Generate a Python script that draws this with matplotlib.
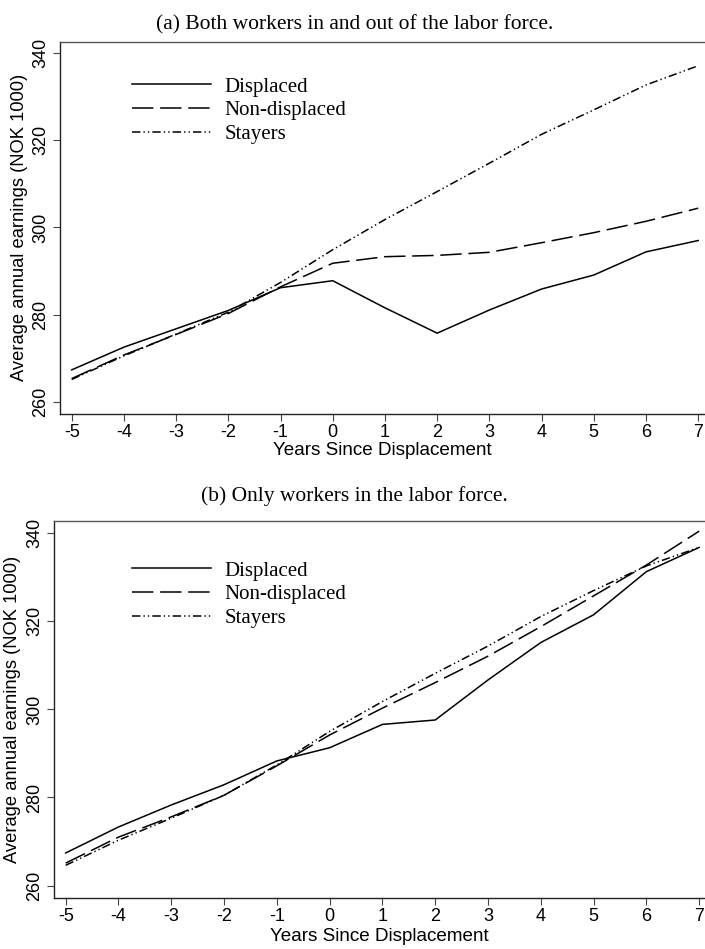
import numpy as np
import matplotlib
matplotlib.use("Agg")
import matplotlib.pyplot as plt

plt.rcParams["axes.unicode_minus"] = False

years = [-5, -4, -3, -2, -1, 0, 1, 2, 3, 4, 5, 6, 7]

# (a) Both workers in and out of the labor force
displaced_a = [267.4, 272.6, 276.8, 281.0, 286.2, 287.8, 281.6, 275.8, 281.1, 285.9, 289.1, 294.4, 297.0]
nondisp_a = [265.4, 270.8, 275.5, 280.3, 286.4, 291.8, 293.3, 293.6, 294.3, 296.5, 298.8, 301.4, 304.4]
stayers_a = [265.2, 270.6, 275.6, 280.6, 287.4, 294.9, 301.8, 308.2, 314.7, 321.3, 326.9, 332.6, 337.0]

# (b) Only workers in the labor force
displaced_b = [267.4, 273.3, 278.3, 282.9, 288.3, 291.3, 296.6, 297.6, 306.7, 315.2, 321.5, 331.3, 336.8]
nondisp_b = [265.1, 271.0, 275.6, 280.5, 287.2, 294.2, 300.3, 306.1, 312.1, 318.8, 325.8, 332.8, 340.5]
stayers_b = [264.6, 270.3, 275.3, 280.5, 287.4, 295.0, 301.8, 308.2, 314.4, 321.1, 327.0, 332.6, 336.8]

labels = ["Displaced", "Non-displaced", "Stayers"]
titles = ["(a) Both workers in and out of the labor force.",
          "(b) Only workers in the labor force."]

W, H = 705, 949
fig = plt.figure(figsize=(W / 100, H / 100), dpi=100)

sans = ["Liberation Sans", "DejaVu Sans"]
serif = ["Liberation Serif", "DejaVu Serif"]

lw = 1.1
styles = [dict(linestyle="-"),
          dict(dashes=(14, 4.4)),
          dict(dashes=(5.5, 2, 0.9, 2, 0.9, 2))]


def px_rect(left, top, right, bottom):
    return [left / W, 1 - bottom / H, (right - left) / W, (bottom - top) / H]


panels = [
    dict(rect=px_rect(60, 41.7, 705, 414), xlim=(-5.224, 7.13), ylim=(257.3, 342.5),
         data=[displaced_a, nondisp_a, stayers_a], title_y=25, leg=(0.111, 0.905),
         ylab_x=-0.0496, xlab_y=-0.074),
    dict(rect=px_rect(54.3, 521, 705, 898.3), xlim=(-5.216, 7.11), ylim=(257.1, 342.8),
         data=[displaced_b, nondisp_b, stayers_b], title_y=496, leg=(0.119, 0.894),
         ylab_x=-0.051, xlab_y=-0.079),
]

for p, title in zip(panels, titles):
    ax = fig.add_axes(p["rect"])
    for series, lab, st in zip(p["data"], labels, styles):
        ax.plot(years, series, color="black", lw=lw, label=lab, **st)
    ax.set_xlim(*p["xlim"])
    ax.set_ylim(*p["ylim"])
    ax.set_xticks(years)
    ax.set_yticks([260, 280, 300, 320, 340])
    ax.spines["right"].set_visible(False)
    ax.spines["top"].set_color("#555555")
    ax.spines["left"].set_color("#222222")
    ax.spines["bottom"].set_color("#222222")
    for s in ax.spines.values():
        s.set_linewidth(1.0)
    ax.tick_params(axis="both", direction="out", length=5, width=0.8,
                   color="#444444", labelsize=13, pad=2)
    ax.tick_params(axis="y", labelrotation=90, pad=3)
    for t in ax.get_xticklabels() + ax.get_yticklabels():
        t.set_family(sans)
    for t in ax.get_yticklabels():
        t.set_va("center")
    ax.set_xlabel("Years Since Displacement", fontsize=13.6, family=sans)
    ax.set_ylabel("Average annual earnings (NOK 1000)", fontsize=13.2, family=sans)
    ax.xaxis.set_label_coords(0.5, p["xlab_y"])
    ax.yaxis.set_label_coords(p["ylab_x"], 0.5)
    ax.legend(loc="upper left", bbox_to_anchor=p["leg"], frameon=False,
              prop={"family": serif, "size": 15}, handlelength=3.8,
              handletextpad=0.65, labelspacing=0.2, borderpad=0, borderaxespad=0)
    fig.text(0.503, 1 - p["title_y"] / H, title, ha="center", va="center",
             fontsize=15.5, family=serif)

fig.savefig("out.png", dpi=100)
